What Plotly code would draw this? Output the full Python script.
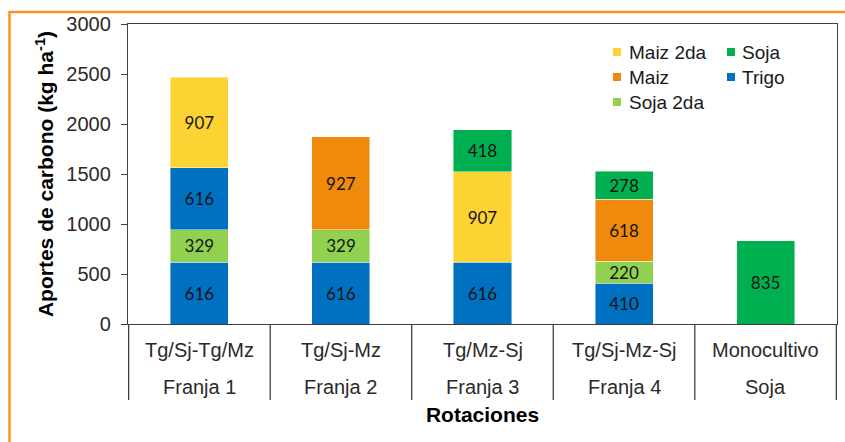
import plotly.graph_objects as go

# Rotations (lower label row / upper label row)
franjas = ["Franja 1", "Franja 2", "Franja 3", "Franja 4", "Soja"]
rotaciones = ["Tg/Sj-Tg/Mz", "Tg/Sj-Mz", "Tg/Mz-Sj", "Tg/Sj-Mz-Sj", "Monocultivo"]

# Carbon inputs per crop (kg ha-1), listed in stacking order from the bottom
trigo_1 = [616, 616, 616, 410, None]
soja_2da = [329, 329, None, 220, None]
trigo_2 = [616, None, None, None, None]
maiz_2da = [907, None, 907, None, None]
maiz = [None, 927, None, 618, None]
soja = [None, None, 418, 278, 835]

colors = {
    "Trigo": "#0070C0",
    "Soja 2da": "#92D050",
    "Maiz 2da": "#FCD332",
    "Maiz": "#EF8A0C",
    "Soja": "#00B050",
}

stack = [
    ("Trigo", trigo_1),
    ("Soja 2da", soja_2da),
    ("Trigo", trigo_2),
    ("Maiz 2da", maiz_2da),
    ("Maiz", maiz),
    ("Soja", soja),
]

legend_order = ["Maiz 2da", "Soja", "Maiz", "Trigo", "Soja 2da"]

W, H = 845, 442
ML, MR, MT, MB = 128, 8, 24, 118
PW, PH = W - ML - MR, H - MT - MB


def px(x):
    return (x - ML) / PW


def py(y):
    return (H - MB - y) / PH


fig = go.Figure()
for name, vals in stack:
    fig.add_trace(go.Bar(
        x=rotaciones,
        y=vals,
        name=name,
        marker=dict(color=colors[name], line=dict(color="rgba(255,255,255,0.55)", width=0.8)),
        text=[None if v is None else str(v) for v in vals],
        textposition="inside",
        insidetextanchor="middle",
        textangle=0,
        constraintext="none",
        textfont=dict(family="Lato", size=17, color="#141414"),
        showlegend=False,
        hoverinfo="skip",
    ))

axis_col = "#404040"
label_font = dict(family="Liberation Sans, Arial", size=20, color="#2a2a2a")
title_font = dict(family="Liberation Sans, Arial", size=21, color="#000000")

fig.update_layout(
    width=W, height=H,
    margin=dict(l=ML, r=MR, t=MT, b=MB, pad=0),
    barmode="stack",
    bargap=0.59,
    plot_bgcolor="white",
    paper_bgcolor="white",
    xaxis=dict(
        type="category",
        showline=True, linecolor=axis_col, linewidth=1.3, mirror=True,
        ticks="", showticklabels=False,
        title=dict(text="<b>Rotaciones</b>", font=title_font, standoff=83),
    ),
    yaxis=dict(
        range=[0, 3000], dtick=500,
        showline=True, linecolor=axis_col, linewidth=1.3, mirror=True,
        showgrid=False, zeroline=False,
        ticks="outside", ticklen=6, tickcolor=axis_col, tickwidth=1.3,
        tickfont=label_font, ticklabelstandoff=6,
        title=dict(text="<b>Aportes de carbono (kg ha<sup>-1</sup>)</b>", font=title_font, standoff=6),
    ),
)

shapes = []
annotations = []

# Two-row category labels with vertical dividers
for i, (rot, fr) in enumerate(zip(rotaciones, franjas)):
    annotations.append(dict(
        xref="x", yref="paper", x=rot, y=py(350), text=rot, showarrow=False,
        xanchor="center", yanchor="middle", font=label_font,
    ))
    annotations.append(dict(
        xref="x", yref="paper", x=rot, y=py(387), text=fr, showarrow=False,
        xanchor="center", yanchor="middle", font=label_font,
    ))
for k in range(len(rotaciones) + 1):
    shapes.append(dict(
        type="line", xref="x", yref="paper",
        x0=k - 0.5, x1=k - 0.5, y0=0, y1=py(400),
        line=dict(color=axis_col, width=1.3),
    ))

# Legend in two columns, top right of the plot area
col_sq = [613, 727]
col_tx = [627, 740]
row_y = [52, 77, 102]
for i, name in enumerate(legend_order):
    c, r = i % 2, i // 2
    shapes.append(dict(
        type="rect", xref="paper", yref="paper",
        x0=px(col_sq[c]), x1=px(col_sq[c] + 8),
        y0=py(row_y[r] + 4), y1=py(row_y[r] - 4),
        fillcolor=colors[name], line=dict(width=0),
    ))
    annotations.append(dict(
        xref="paper", yref="paper", x=px(col_tx[c]), y=py(row_y[r]),
        text=name, showarrow=False, xanchor="left", yanchor="middle",
        font=dict(family="Liberation Sans, Arial", size=19, color="#1a1a1a"),
    ))

# Orange frame around the figure
shapes.append(dict(
    type="path", xref="paper", yref="paper",
    path=f"M {px(9.5)},{py(460)} L {px(9.5)},{py(12)} L {px(860)},{py(12)}",
    line=dict(color="#F7931E", width=2.5),
))

fig.update_layout(shapes=shapes, annotations=annotations)

fig.write_html("out.html")
